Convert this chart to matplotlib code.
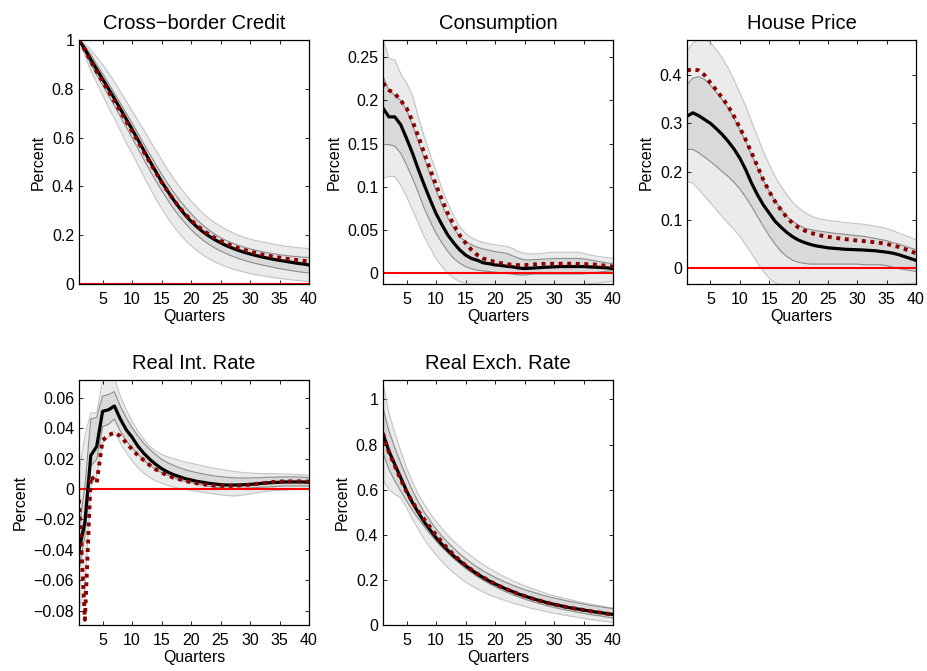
import matplotlib
matplotlib.use("Agg")
import matplotlib.pyplot as plt
from matplotlib.ticker import FuncFormatter

plt.rcParams['font.family'] = ['Liberation Sans', 'DejaVu Sans']

quarters = list(range(1, 41))

# Cross-border credit
credit_med = [1.0, 0.963, 0.92, 0.88, 0.84, 0.80, 0.76, 0.718, 0.676, 0.634,
              0.591, 0.547, 0.504, 0.462, 0.42, 0.382, 0.346, 0.313, 0.283, 0.257,
              0.234, 0.214, 0.197, 0.182, 0.169, 0.157, 0.147, 0.138, 0.130, 0.123,
              0.117, 0.111, 0.106, 0.101, 0.097, 0.093, 0.089, 0.085, 0.082, 0.078]
credit_alt = [1.0, 0.958, 0.912, 0.87, 0.83, 0.79, 0.75, 0.708, 0.667, 0.626,
              0.584, 0.541, 0.499, 0.458, 0.418, 0.381, 0.347, 0.315, 0.287, 0.262,
              0.24, 0.221, 0.204, 0.19, 0.177, 0.166, 0.156, 0.147, 0.14, 0.133,
              0.127, 0.121, 0.116, 0.112, 0.108, 0.104, 0.101, 0.098, 0.095, 0.092]
credit_hi90 = [1.0, 0.985, 0.96, 0.93, 0.90, 0.865, 0.83, 0.79, 0.75, 0.71,
               0.67, 0.63, 0.59, 0.55, 0.51, 0.47, 0.435, 0.40, 0.37, 0.34,
               0.315, 0.29, 0.27, 0.252, 0.236, 0.223, 0.211, 0.20, 0.191, 0.184,
               0.178, 0.173, 0.168, 0.163, 0.159, 0.155, 0.152, 0.149, 0.147, 0.145]
credit_hi68 = [1.0, 0.975, 0.94, 0.90, 0.862, 0.822, 0.782, 0.741, 0.70, 0.659,
               0.617, 0.574, 0.532, 0.491, 0.451, 0.413, 0.378, 0.346, 0.316, 0.289,
               0.263, 0.241, 0.222, 0.205, 0.19, 0.178, 0.168, 0.159, 0.151, 0.144,
               0.138, 0.133, 0.128, 0.124, 0.12, 0.117, 0.114, 0.112, 0.11, 0.109]
credit_lo68 = [1.0, 0.95, 0.90, 0.857, 0.815, 0.773, 0.73, 0.687, 0.643, 0.60,
               0.555, 0.51, 0.466, 0.424, 0.384, 0.346, 0.31, 0.278, 0.249, 0.223,
               0.2, 0.18, 0.163, 0.148, 0.135, 0.124, 0.114, 0.105, 0.097, 0.09,
               0.084, 0.078, 0.073, 0.068, 0.063, 0.059, 0.055, 0.051, 0.048, 0.045]
credit_lo90 = [1.0, 0.935, 0.875, 0.825, 0.775, 0.725, 0.678, 0.63, 0.58, 0.535,
               0.488, 0.44, 0.395, 0.35, 0.31, 0.272, 0.238, 0.207, 0.18, 0.157,
               0.137, 0.119, 0.104, 0.091, 0.08, 0.07, 0.062, 0.055, 0.049, 0.043,
               0.038, 0.034, 0.03, 0.026, 0.023, 0.02, 0.017, 0.015, 0.012, 0.01]

# Consumption
cons_med = [0.191, 0.181, 0.181, 0.172, 0.156, 0.139, 0.12, 0.102, 0.085, 0.069,
            0.056, 0.044, 0.035, 0.027, 0.021, 0.017, 0.015, 0.012, 0.011, 0.0096,
            0.009, 0.008, 0.0073, 0.006, 0.0054, 0.0058, 0.0062, 0.0066, 0.007, 0.0073,
            0.0077, 0.0077, 0.0077, 0.0077, 0.0077, 0.0073, 0.007, 0.0066, 0.0062, 0.0054]
cons_alt = [0.22, 0.212, 0.208, 0.2, 0.191, 0.176, 0.158, 0.139, 0.12, 0.102,
            0.085, 0.069, 0.056, 0.044, 0.035, 0.027, 0.021, 0.017, 0.015, 0.013,
            0.0116, 0.0104, 0.0098, 0.0093, 0.0093, 0.0100, 0.0104, 0.0108, 0.011, 0.011,
            0.011, 0.011, 0.011, 0.0108, 0.0106, 0.0104, 0.01, 0.0093, 0.0085, 0.0077]
cons_hi90 = [0.271, 0.249, 0.247, 0.231, 0.22, 0.206, 0.181, 0.158, 0.137, 0.118,
             0.098, 0.081, 0.066, 0.054, 0.046, 0.041, 0.038, 0.0355, 0.034, 0.033,
             0.032, 0.031, 0.0285, 0.025, 0.023, 0.0224, 0.0224, 0.023, 0.024, 0.0243,
             0.0243, 0.0243, 0.0243, 0.0243, 0.023, 0.0212, 0.02, 0.019, 0.018, 0.0174]
cons_hi68 = [0.228, 0.212, 0.206, 0.2, 0.189, 0.172, 0.152, 0.133, 0.114, 0.096,
             0.079, 0.064, 0.052, 0.042, 0.037, 0.033, 0.03, 0.028, 0.0266, 0.025,
             0.024, 0.023, 0.02, 0.0174, 0.0154, 0.0154, 0.0158, 0.0162, 0.0166, 0.017,
             0.017, 0.017, 0.017, 0.017, 0.0166, 0.0154, 0.0143, 0.0131, 0.012, 0.011]
cons_lo68 = [0.149, 0.149, 0.147, 0.139, 0.125, 0.11, 0.093, 0.075, 0.06, 0.046,
             0.035, 0.025, 0.017, 0.0116, 0.0077, 0.005, 0.0035, 0.0027, 0.002, 0.0012,
             0.0004, -0.0004, -0.001, -0.002, -0.002, -0.0012, -0.0008, -0.0008, -0.0008, -0.0008,
             -0.0008, -0.0008, -0.0008, -0.0008, -0.0008, 0.0, 0.0008, 0.0015, 0.0023, 0.003]
cons_lo90 = [0.11, 0.112, 0.112, 0.102, 0.089, 0.073, 0.058, 0.042, 0.029, 0.017,
             0.0077, 0.0, -0.006, -0.0096, -0.0116, -0.013, -0.014, -0.015, -0.015, -0.015,
             -0.015, -0.015, -0.015, -0.015, -0.015, -0.015, -0.015, -0.015, -0.015, -0.015,
             -0.0145, -0.014, -0.014, -0.0138, -0.0135, -0.0123, -0.0116, -0.0108, -0.01, -0.0093]

# House price
house_med = [0.315, 0.322, 0.316, 0.308, 0.30, 0.289, 0.277, 0.263, 0.247, 0.228,
             0.204, 0.176, 0.152, 0.131, 0.114, 0.097, 0.085, 0.074, 0.065, 0.058,
             0.053, 0.049, 0.046, 0.044, 0.042, 0.041, 0.040, 0.039, 0.0385, 0.038,
             0.0375, 0.0367, 0.036, 0.0345, 0.033, 0.031, 0.028, 0.024, 0.02, 0.016]
house_alt = [0.41, 0.412, 0.41, 0.40, 0.384, 0.369, 0.353, 0.336, 0.315, 0.291,
             0.266, 0.239, 0.211, 0.183, 0.159, 0.138, 0.121, 0.105, 0.093, 0.084,
             0.078, 0.073, 0.07, 0.067, 0.065, 0.063, 0.0615, 0.06, 0.0585, 0.057,
             0.056, 0.055, 0.0535, 0.052, 0.05, 0.047, 0.044, 0.04, 0.035, 0.031]
house_hi90 = [0.452, 0.466, 0.474, 0.474, 0.468, 0.453, 0.436, 0.415, 0.391, 0.363,
              0.336, 0.304, 0.273, 0.242, 0.215, 0.19, 0.17, 0.152, 0.137, 0.125,
              0.116, 0.109, 0.104, 0.101, 0.099, 0.0975, 0.096, 0.0945, 0.093, 0.092,
              0.091, 0.089, 0.087, 0.085, 0.082, 0.078, 0.073, 0.068, 0.064, 0.059]
house_hi68 = [0.38, 0.394, 0.397, 0.391, 0.379, 0.365, 0.349, 0.332, 0.311, 0.287,
              0.263, 0.235, 0.208, 0.182, 0.159, 0.14, 0.122, 0.107, 0.097, 0.089,
              0.083, 0.08, 0.0775, 0.076, 0.074, 0.0725, 0.071, 0.07, 0.0685, 0.067,
              0.066, 0.064, 0.0616, 0.059, 0.057, 0.053, 0.05, 0.046, 0.042, 0.038]
house_lo68 = [0.246, 0.246, 0.239, 0.23, 0.221, 0.211, 0.2, 0.19, 0.178, 0.164,
              0.147, 0.128, 0.107, 0.0865, 0.067, 0.05, 0.0346, 0.024, 0.016, 0.012,
              0.0097, 0.0083, 0.0083, 0.0083, 0.0083, 0.0083, 0.0083, 0.0083, 0.0083, 0.0083,
              0.007, 0.007, 0.007, 0.007, 0.005, 0.002, -0.0007, -0.003, -0.005, -0.007]
house_lo90 = [0.18, 0.176, 0.163, 0.149, 0.135, 0.121, 0.107, 0.093, 0.08, 0.066,
              0.048, 0.03, 0.0104, -0.007, -0.021, -0.031, -0.035, -0.036, -0.036, -0.036,
              -0.036, -0.036, -0.036, -0.036, -0.036, -0.036, -0.036, -0.036, -0.036, -0.036,
              -0.036, -0.036, -0.036, -0.036, -0.036, -0.035, -0.034, -0.033, -0.032, -0.031]

# Real interest rate
rate_med = [-0.040, -0.022, 0.022, 0.028, 0.051, 0.052, 0.0545, 0.046, 0.039, 0.034,
            0.028, 0.0234, 0.0195, 0.0162, 0.0134, 0.0112, 0.0094, 0.0081, 0.0068, 0.0059,
            0.005, 0.0044, 0.0037, 0.0033, 0.0028, 0.0026, 0.0026, 0.0026, 0.0028, 0.003,
            0.0033, 0.0037, 0.004, 0.0042, 0.0044, 0.0046, 0.0046, 0.0046, 0.0046, 0.0044]
rate_alt = [-0.007, -0.086, 0.0085, 0.004, 0.032, 0.0353, 0.037, 0.0348, 0.0304, 0.026,
            0.022, 0.0188, 0.0156, 0.0129, 0.0107, 0.009, 0.0074, 0.0064, 0.0053, 0.0044,
            0.0037, 0.0031, 0.0026, 0.0022, 0.002, 0.002, 0.002, 0.0022, 0.0024, 0.0028,
            0.0033, 0.0037, 0.0042, 0.0046, 0.0048, 0.005, 0.005, 0.005, 0.005, 0.0048]
rate_hi90 = [0.011, 0.035, 0.050, 0.050, 0.071, 0.072, 0.073, 0.061, 0.052, 0.0447,
             0.038, 0.0326, 0.028, 0.025, 0.0228, 0.021, 0.02, 0.0188, 0.0177, 0.0169,
             0.016, 0.0151, 0.0142, 0.0136, 0.0129, 0.0123, 0.0116, 0.0112, 0.0107, 0.0105,
             0.0103, 0.0101, 0.0101, 0.0101, 0.0099, 0.0099, 0.0097, 0.0095, 0.0093, 0.009]
rate_hi68 = [-0.0265, 0.002, 0.046, 0.047, 0.061, 0.062, 0.064, 0.0545, 0.0469, 0.0403,
             0.0348, 0.03, 0.026, 0.0226, 0.0195, 0.0173, 0.0156, 0.014, 0.0127, 0.0116,
             0.0107, 0.0099, 0.0092, 0.0085, 0.0081, 0.0077, 0.0074, 0.0072, 0.0072, 0.0072,
             0.0074, 0.0074, 0.0077, 0.0077, 0.0079, 0.0079, 0.0079, 0.0079, 0.0077, 0.0074]
rate_lo68 = [-0.053, -0.031, 0.015, 0.0195, 0.041, 0.0425, 0.046, 0.038, 0.0315, 0.027,
             0.0228, 0.0188, 0.0156, 0.0129, 0.0107, 0.009, 0.0074, 0.0061, 0.005, 0.0042,
             0.0033, 0.0024, 0.0018, 0.0011, 0.0007, 0.0004, 0.0002, 0.0002, 0.0004, 0.0007,
             0.0009, 0.0011, 0.0013, 0.0015, 0.0018, 0.002, 0.002, 0.002, 0.002, 0.0018]
rate_lo90 = [-0.079, -0.066, 0.002, 0.0085, 0.0305, 0.0337, 0.038, 0.0305, 0.0239, 0.0184,
             0.014, 0.0103, 0.0074, 0.0053, 0.0037, 0.0024, 0.0013, 0.0004, -0.0002, -0.0009,
             -0.0015, -0.0022, -0.0028, -0.0033, -0.0039, -0.0042, -0.0046, -0.0044, -0.0039, -0.0033,
             -0.0026, -0.002, -0.0015, -0.0011, -0.0009, -0.0007, -0.0004, -0.0004, -0.0004, -0.0004]

# Real exchange rate
rer_med = [0.847, 0.771, 0.712, 0.653, 0.594, 0.542, 0.498, 0.456, 0.421, 0.387,
           0.357, 0.331, 0.306, 0.284, 0.263, 0.244, 0.226, 0.21, 0.195, 0.182,
           0.17, 0.158, 0.148, 0.137, 0.1285, 0.12, 0.112, 0.105, 0.0975, 0.0916,
           0.0857, 0.08, 0.075, 0.071, 0.0665, 0.062, 0.0576, 0.0547, 0.05, 0.047]
rer_alt = [0.85, 0.765, 0.705, 0.645, 0.59, 0.545, 0.505, 0.468, 0.433, 0.399,
           0.367, 0.338, 0.311, 0.287, 0.265, 0.245, 0.227, 0.211, 0.196, 0.182,
           0.17, 0.158, 0.148, 0.137, 0.1285, 0.12, 0.112, 0.105, 0.0975, 0.0916,
           0.0857, 0.08, 0.075, 0.071, 0.0665, 0.062, 0.0576, 0.0547, 0.05, 0.047]
rer_hi90 = [1.07, 0.941, 0.852, 0.771, 0.697, 0.634, 0.579, 0.535, 0.495, 0.459,
            0.427, 0.397, 0.371, 0.347, 0.325, 0.304, 0.285, 0.267, 0.251, 0.236,
            0.222, 0.208, 0.196, 0.185, 0.174, 0.164, 0.155, 0.146, 0.137, 0.13,
            0.123, 0.117, 0.111, 0.105, 0.099, 0.093, 0.089, 0.084, 0.08, 0.075]
rer_hi68 = [0.963, 0.86, 0.786, 0.719, 0.655, 0.595, 0.545, 0.50, 0.462, 0.426,
            0.394, 0.366, 0.34, 0.316, 0.294, 0.275, 0.256, 0.24, 0.225, 0.211,
            0.199, 0.187, 0.176, 0.166, 0.157, 0.149, 0.141, 0.133, 0.126, 0.12,
            0.114, 0.108, 0.103, 0.098, 0.093, 0.088, 0.084, 0.08, 0.076, 0.072]
rer_lo68 = [0.764, 0.69, 0.638, 0.594, 0.55, 0.508, 0.471, 0.436, 0.403, 0.372,
            0.344, 0.318, 0.294, 0.272, 0.251, 0.232, 0.214, 0.198, 0.183, 0.17,
            0.157, 0.145, 0.134, 0.124, 0.115, 0.106, 0.099, 0.0916, 0.084, 0.078,
            0.072, 0.066, 0.062, 0.056, 0.052, 0.047, 0.043, 0.04, 0.035, 0.031]
rer_lo90 = [0.645, 0.601, 0.579, 0.564, 0.52, 0.468, 0.424, 0.38, 0.343, 0.31,
            0.281, 0.254, 0.23, 0.21, 0.19, 0.174, 0.16, 0.146, 0.134, 0.124,
            0.115, 0.106, 0.0975, 0.09, 0.0827, 0.075, 0.069, 0.0635, 0.0576, 0.052,
            0.047, 0.043, 0.038, 0.034, 0.0295, 0.025, 0.022, 0.018, 0.015, 0.0103]

W, H = 927, 671
fig = plt.figure(figsize=(W / 100, H / 100), dpi=100)


def box(left, top, width, height):
    return [left / W, 1 - (top + height) / H, width / W, height / H]


def fmt(v, pos):
    return ('%g' % round(v, 6)).replace('-', '\u2212')


def panel(rect, title, med, alt, hi90, hi68, lo68, lo90, ylim, yticks, zero=True):
    ax = fig.add_axes(rect)
    ax.fill_between(quarters, lo90, hi90, color='#ebebeb', lw=0)
    ax.plot(quarters, hi90, color='#c4c4c4', lw=0.8)
    ax.plot(quarters, lo90, color='#c4c4c4', lw=0.8)
    ax.fill_between(quarters, lo68, hi68, color='#d9d9d9', lw=0)
    ax.plot(quarters, hi68, color='#8c8c8c', lw=0.8)
    ax.plot(quarters, lo68, color='#8c8c8c', lw=0.8)
    if zero:
        ax.axhline(0, color='red', lw=1.5)
    ax.plot(quarters, med, color='black', lw=2.3)
    ax.plot(quarters, alt, color='#8b0000', lw=2.8, ls=(0, (1, 1.2)))
    ax.set_xlim(1, 40)
    ax.set_ylim(*ylim)
    ax.set_xticks(range(5, 41, 5))
    ax.set_yticks(yticks)
    ax.yaxis.set_major_formatter(FuncFormatter(fmt))
    ax.tick_params(direction='in', top=True, right=True, length=3,
                   width=0.6, labelsize=11.5)
    ax.tick_params(axis='x', pad=5.5)
    ax.tick_params(axis='y', pad=3.5)
    for s in ax.spines.values():
        s.set_linewidth(0.9)
    ax.set_title(title, fontsize=14.5, pad=8)
    ax.set_xlabel('Quarters', fontsize=11.5, labelpad=2)
    ax.set_ylabel('Percent', fontsize=11.5, labelpad=4)
    return ax


panel(box(79, 40, 230, 244), 'Cross\u2212border Credit',
      credit_med, credit_alt, credit_hi90, credit_hi68, credit_lo68, credit_lo90,
      (0, 1), [0, 0.2, 0.4, 0.6, 0.8, 1])
panel(box(383, 40, 230, 244), 'Consumption',
      cons_med, cons_alt, cons_hi90, cons_hi68, cons_lo68, cons_lo90,
      (-0.0125, 0.27), [0, 0.05, 0.1, 0.15, 0.2, 0.25])
panel(box(687, 40, 229, 244), 'House Price',
      house_med, house_alt, house_hi90, house_hi68, house_lo68, house_lo90,
      (-0.033, 0.473), [0, 0.1, 0.2, 0.3, 0.4])
panel(box(79, 380, 230, 245), 'Real Int. Rate',
      rate_med, rate_alt, rate_hi90, rate_hi68, rate_lo68, rate_lo90,
      (-0.0894, 0.0716), [-0.08, -0.06, -0.04, -0.02, 0, 0.02, 0.04, 0.06])
panel(box(383, 380, 230, 245), 'Real Exch. Rate',
      rer_med, rer_alt, rer_hi90, rer_hi68, rer_lo68, rer_lo90,
      (0, 1.086), [0, 0.2, 0.4, 0.6, 0.8, 1], zero=False)

fig.savefig('out.png', dpi=100)
